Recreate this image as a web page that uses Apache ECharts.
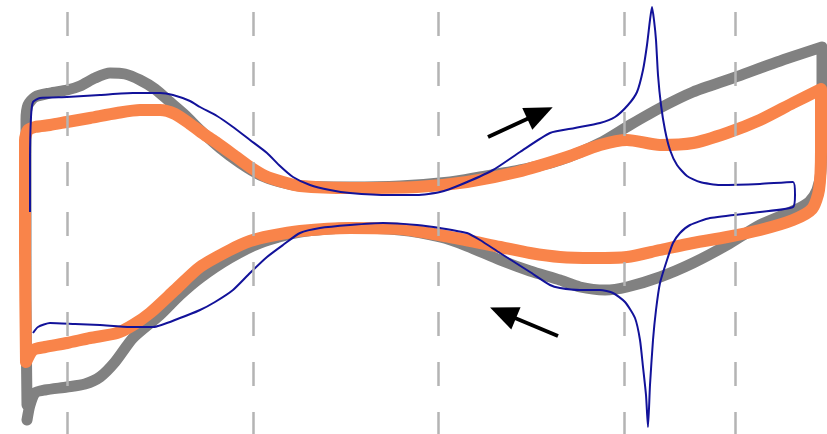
<!DOCTYPE html>
<html>
<head>
<meta charset="utf-8">
<script src="https://cdn.jsdelivr.net/npm/echarts@6/dist/echarts.min.js"></script>
<style>html,body{margin:0;padding:0;background:#fff}#c{width:827px;height:434px}</style>
</head>
<body>
<div id="c"></div>
<script>
// Potential positions of the dashed reference lines (chart units)
var refLines = [67, 253, 438, 624, 735];

// Gray loop
var grayLoop = [[27,405],[26,300],[26,200],[26,120],[28,105],[35,97],[50,93],[67,90],[80,86],[95,78],[110,73],[125,74],[140,80],[155,89],[170,102],[185,115],[200,130],[220,148],[240,163],[260,175],[280,182],[300,186],[350,187],[400,186],[450,182],[480,177],[520,170],[560,160],[600,143],[630,125],[660,108],[693,92],[733,78],[777,62],[822,47],[822,100],[821,170],[817,190],[809,202],[795,210],[760,225],[727,245],[693,263],[660,277],[627,287],[605,290],[580,287],[560,280],[530,271],[500,260],[467,246],[440,237],[400,230],[350,228],[300,232],[260,243],[230,258],[200,278],[180,295],[160,315],[133,338],[115,362],[100,377],[85,384],[67,387],[45,390],[35,393],[30,405],[27,420]];

// Orange loop
var orangeLoop = [[26,362],[25,250],[25,140],[28,130],[35,127],[50,125],[67,122],[90,118],[117,113],[140,110],[160,110],[175,114],[190,124],[205,135],[217,143],[235,156],[250,167],[265,176],[283,182],[300,186],[350,188],[417,187],[467,182],[517,172],[567,157],[600,145],[627,140],[660,145],[693,143],[727,133],[760,120],[793,103],[821,89],[821,150],[819,190],[812,209],[793,220],[760,230],[727,237],[693,243],[660,250],[627,257],[593,258],[560,257],[530,253],[500,247],[450,237],[400,229],[350,228],[300,231],[270,236],[250,241],[230,250],[200,267],[175,290],[150,313],[133,325],[117,333],[90,338],[67,343],[45,347],[33,350],[26,362]];

// Blue trace
var blueTrace = [[30,212],[30,160],[31,117],[33,102],[40,98],[67,97],[100,95],[133,93],[160,93],[173,95],[190,101],[200,107],[217,116],[233,127],[250,140],[267,153],[280,166],[293,177],[310,185],[330,190],[350,193],[390,195],[417,195],[440,192],[460,185],[493,170],[520,152],[550,133],[575,128],[600,123],[615,117],[628,105],[637,92],[643,70],[647,45],[650,20],[652,7],[654,20],[656,40],[658,75],[661,105],[665,130],[670,150],[677,165],[687,176],[700,182],[720,185],[760,184],[793,182],[795,195],[793,207],[760,212],[710,218],[690,225],[680,233],[673,243],[667,260],[660,283],[656,310],[653,340],[650,385],[648,427],[646,395],[643,367],[640,340],[635,318],[625,302],[613,293],[600,290],[580,290],[560,288],[550,285],[530,272],[500,253],[480,240],[467,233],[440,228],[417,225],[383,223],[350,225],[320,228],[300,233],[283,245],[267,257],[250,273],[233,290],[215,302],[200,310],[180,318],[153,327],[130,327],[100,325],[75,324],[50,323],[38,327],[33,333]];

// Scan direction arrows [tail, head]
var arrows = [[[488,137],[540,113]], [[558,336],[503,313]]];

var chart = echarts.init(document.getElementById('c'), null, {renderer: 'canvas'});
chart.setOption({
  animation: false,
  backgroundColor: '#ffffff',
  grid: {left: 0, right: 0, top: 0, bottom: 0},
  xAxis: {type: 'value', min: 0, max: 827, show: false},
  yAxis: {type: 'value', min: 0, max: 434, inverse: true, show: false},
  series: [
    {
      type: 'line', data: [], z: 1, silent: true,
      markLine: {
        silent: true, symbol: ['none', 'none'], label: {show: false},
        lineStyle: {color: '#b4b4b4', width: 2.5, type: [24, 26]},
        data: refLines.map(function (x) { return [{coord: [x, 12]}, {coord: [x, 434]}]; })
      }
    },
    {
      type: 'line', data: grayLoop, z: 2, smooth: 0.25, showSymbol: false,
      lineStyle: {color: '#818181', width: 11, cap: 'round', join: 'round'}
    },
    {
      type: 'line', data: orangeLoop, z: 3, smooth: 0.25, showSymbol: false,
      lineStyle: {color: '#f9844a', width: 12, cap: 'round', join: 'round'}
    },
    {
      type: 'line', data: blueTrace, z: 4, smooth: 0.2, showSymbol: false,
      lineStyle: {color: '#12129a', width: 2, join: 'round'}
    },
    {
      type: 'line', data: [], z: 5, silent: true,
      markLine: {
        silent: true, symbol: ['none', 'triangle'], symbolSize: [24, 28], label: {show: false},
        lineStyle: {color: '#000000', width: 4, type: 'solid'},
        itemStyle: {color: '#000000'},
        data: arrows.map(function (a) { return [{coord: a[0]}, {coord: a[1]}]; })
      }
    }
  ]
});
</script>
</body>
</html>
